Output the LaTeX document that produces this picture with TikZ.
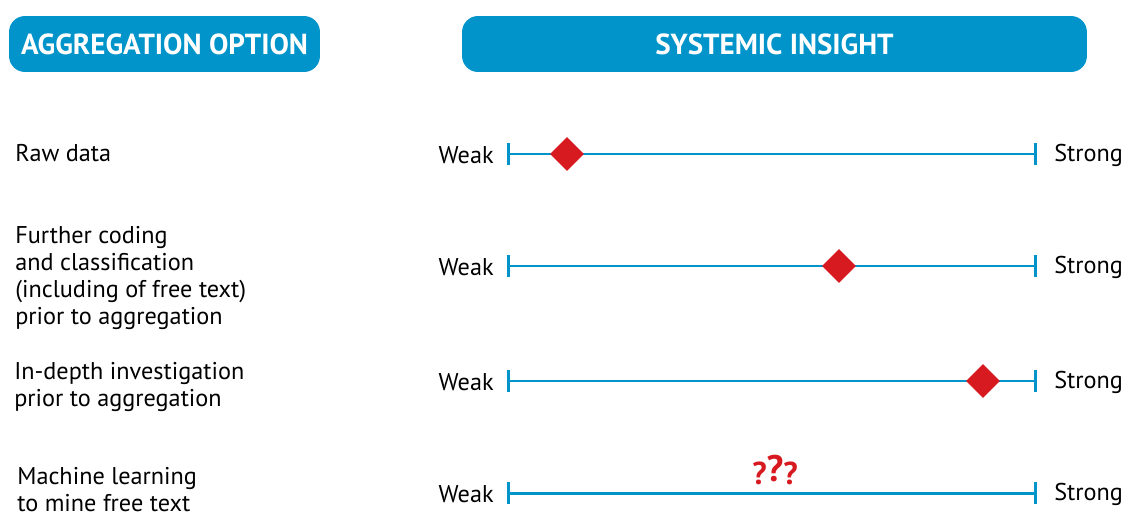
\documentclass[tikz,border=0pt]{standalone}
\usepackage{fontspec}
\setmainfont{PT Sans}
\usetikzlibrary{shapes.geometric,arrows.meta}
\definecolor{insightblue}{HTML}{0094CA}
\definecolor{markred}{HTML}{D71920}
\tikzstyle{header} = [rectangle, rounded corners=0.32cm, fill=insightblue, text=white, minimum height=1.12cm, text centered, font=\fontsize{16.5}{19}\selectfont\bfseries]
\tikzstyle{option} = [anchor=west, align=left, inner sep=0pt, font=\fontsize{13.8}{15.4}\selectfont]
\tikzstyle{weak} = [anchor=east, inner sep=0pt, font=\fontsize{13.8}{15.4}\selectfont]
\tikzstyle{strong} = [anchor=west, inner sep=0pt, font=\fontsize{13.8}{15.4}\selectfont]
\tikzstyle{scaleline} = [draw=insightblue, line width=1.7pt, {Bar[width=0.44cm]}-{Bar[width=0.44cm]}]
\tikzstyle{marker} = [diamond, fill=markred, inner sep=0pt, minimum width=0.68cm, minimum height=0.68cm]
\begin{document}
\begin{tikzpicture}[x=0.02cm, y=-0.02cm]
		\useasboundingbox (0,0) rectangle (1126,514);
		\node (optionhead) [header, minimum width=6.22cm] at (164.5,44) {AGGREGATION OPTION};
		\node (insighthead) [header, minimum width=12.5cm] at (774.5,44) {SYSTEMIC INSIGHT};

		\node (raw) [option] at (15,153) {Raw data};
		\node (coding) [option] at (15,278) {Further coding\\ and classification\\ (including of free text)\\ prior to aggregation};
		\node (depth) [option] at (14,387) {In-depth investigation\\ prior to aggregation};
		\node (machine) [option] at (17,490) {Machine learning\\ to mine free text};

		\coordinate (lo1) at (507,154);
		\coordinate (hi1) at (1037,154);
		\coordinate (lo2) at (507,266);
		\coordinate (hi2) at (1037,266);
		\coordinate (lo3) at (507,381);
		\coordinate (hi3) at (1037,381);
		\coordinate (lo4) at (507,493);
		\coordinate (hi4) at (1037,493);

		\node (weak1) [weak] at (494,155) {Weak};
		\node (weak2) [weak] at (494,267) {Weak};
		\node (weak3) [weak] at (494,382) {Weak};
		\node (weak4) [weak] at (494,494) {Weak};
		\node (strong1) [strong] at (1054,155) {Strong};
		\node (strong2) [strong] at (1054,267) {Strong};
		\node (strong3) [strong] at (1054,382) {Strong};
		\node (strong4) [strong] at (1054,494) {Strong};

		\draw [scaleline] (lo1) -- (hi1);
		\draw [scaleline] (lo2) -- (hi2);
		\draw [scaleline] (lo3) -- (hi3);
		\draw [scaleline] (lo4) -- (hi4);

		\node (mark1) [marker] at (567,154) {};
		\node (mark2) [marker] at (839,266) {};
		\node (mark3) [marker] at (983,381) {};
		\node (unknown) [text=markred, font=\fontsize{18}{20}\selectfont\bfseries] at (775,470) {?\raisebox{0.12em}{\fontsize{21}{22}\selectfont ?}?};
	\end{tikzpicture}
\end{document}
